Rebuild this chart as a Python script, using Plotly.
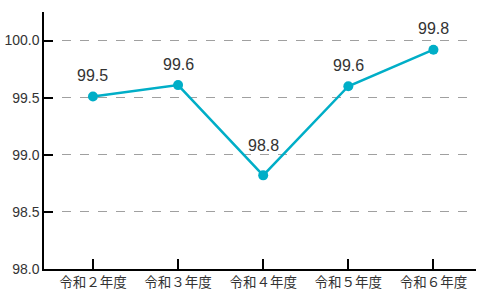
import plotly.graph_objects as go

categories = ["令和２年度", "令和３年度", "令和４年度", "令和５年度", "令和６年度"]
values = [99.51, 99.61, 98.82, 99.6, 99.92]
labels = ["99.5", "99.6", "98.8", "99.6", "99.8"]
y_ticks = [98.0, 98.5, 99.0, 99.5, 100.0]
y_tick_text = ["98.0", "98.5", "99.0", "99.5", "100.0"]

xs = list(range(len(categories)))

fig = go.Figure()
fig.add_trace(go.Scatter(
    x=xs, y=values,
    mode="lines+markers",
    line=dict(color="#00AEC7", width=2.5),
    marker=dict(color="#00AEC7", size=10),
    cliponaxis=False,
    hoverinfo="skip",
))
for i, (x, v, t) in enumerate(zip(xs, values, labels)):
    is_min = 0 < i < len(values) - 1 and v < values[i - 1] and v < values[i + 1]
    fig.add_annotation(
        x=x, y=v, xref="x", yref="y", text=t, showarrow=False,
        yshift=30 if is_min else 21,
        font=dict(family="Liberation Sans, Arial, sans-serif", size=16, color="#333333"),
    )

fig.update_layout(
    width=480, height=304,
    margin=dict(l=44, r=4, t=12, b=35),
    paper_bgcolor="white", plot_bgcolor="white",
    showlegend=False,
    font=dict(family="Noto Sans CJK JP, sans-serif", color="#333333"),
)
fig.update_xaxes(
    range=[-0.575, 4.5],
    tickvals=xs, ticktext=categories,
    ticks="inside", ticklen=10, tickcolor="black", tickwidth=1.5,
    showline=True, linecolor="black", linewidth=1.5,
    showgrid=False, zeroline=False,
    tickfont=dict(family="Noto Sans CJK JP, sans-serif", size=13.5, color="#333333"),
)
fig.update_yaxes(
    range=[98.0, 100.25],
    tickvals=y_ticks, ticktext=y_tick_text,
    ticks="inside", ticklen=9, tickcolor="black", tickwidth=1.5,
    showline=True, linecolor="black", linewidth=1.5,
    showgrid=True, gridcolor="#A0A0A0", griddash="dash", gridwidth=1,
    zeroline=False,
    tickfont=dict(family="Liberation Sans, Arial, sans-serif", size=14, color="#333333"),
)

fig.write_html("out.html")
